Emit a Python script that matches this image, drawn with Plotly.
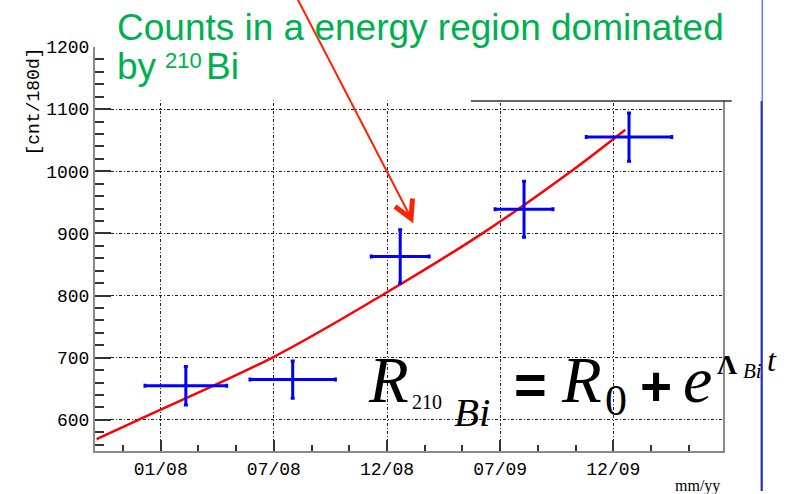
import plotly.graph_objects as go

# Counts per 180 d bin: bin centre (days after the 01/08 tick), half-width, value, error
bin_day = [40, 210, 381, 578, 745]
bin_halfwidth = [65, 68, 46, 46, 68]
counts = [655, 665, 863, 939, 1055]
count_err = [31, 30, 43, 45, 39]

# Exponential fit, sampled along the time axis
fit_day = [-102, -38, 177, 346, 513, 654, 739]
fit_counts = [569, 599, 700, 797, 901, 1001, 1067]

# Time axis ticks
tick_day = [0, 180, 360, 540, 720]
tick_text = ["01/08", "07/08", "12/08", "07/09", "12/09"]

W, H = 796, 494
L, R, T, B = 95, 723, 47, 451

def px(x):
    return (x - L) / (R - L)

def py(y):
    return (B - y) / (B - T)

fig = go.Figure()

fig.add_trace(go.Scatter(
    x=fit_day, y=fit_counts, mode="lines",
    line=dict(color="#ff0000", width=2.5, shape="spline", smoothing=1.0),
    hoverinfo="skip", showlegend=False,
))

fig.add_trace(go.Scatter(
    x=bin_day, y=counts, mode="markers",
    marker=dict(color="#0000ff", size=2),
    error_x=dict(type="data", array=bin_halfwidth, color="#0000ff", thickness=3, width=2),
    error_y=dict(type="data", array=count_err, color="#0000ff", thickness=3, width=2),
    showlegend=False,
))

grid = dict(showgrid=True, gridcolor="#222222", gridwidth=1, griddash="3px,2px,1px,2px")
mono = dict(family="Liberation Mono", size=18, color="black")

fig.update_xaxes(
    range=[-104.5, 894.5], tickvals=tick_day, ticktext=tick_text,
    ticks="inside", ticklen=11, tickwidth=1.5, tickcolor="#333333",
    minor=dict(dtick=60, tick0=0, ticks="inside", ticklen=6, tickwidth=1.5, tickcolor="#333333", showgrid=False),
    showline=True, linecolor="#8a8a8a", linewidth=2, mirror=False,
    zeroline=False, tickfont=mono, **grid,
)
fig.update_yaxes(
    range=[550, 1200], tickvals=[600, 700, 800, 900, 1000, 1100, 1200],
    ticks="inside", ticklen=16, tickwidth=1.5, tickcolor="#333333",
    minor=dict(dtick=20, tick0=0, ticks="inside", ticklen=9, tickwidth=1.5, tickcolor="#333333", showgrid=False),
    showline=True, linecolor="#8a8a8a", linewidth=2, mirror=True,
    zeroline=False, tickfont=mono, **grid,
)

shapes = []
# white text panel over the top of the frame
shapes.append(dict(type="rect", xref="paper", yref="paper", layer="above",
                   x0=px(104), x1=px(760), y0=py(100.5), y1=py(-5),
                   fillcolor="white", line=dict(width=0)))
# panel edge lines
shapes.append(dict(type="line", xref="paper", yref="paper", layer="above",
                   x0=px(471), x1=px(731.7), y0=py(101), y1=py(101),
                   line=dict(color="#333333", width=1.5)))
shapes.append(dict(type="line", xref="paper", yref="paper", layer="above",
                   x0=px(762.3), x1=px(762.3), y0=py(-2), y1=py(101),
                   line=dict(color="#6677dd", width=1.5)))
shapes.append(dict(type="line", xref="paper", yref="paper", layer="above",
                   x0=px(761.7), x1=px(761.7), y0=py(101), y1=py(491),
                   line=dict(color="#1f2fbf", width=2.2)))
# arrow pointing at the 12/08 bin
shapes.append(dict(type="line", xref="paper", yref="paper", layer="above",
                   x0=px(297), x1=px(410), y0=py(-2), y1=py(216),
                   line=dict(color="#ff2200", width=2)))
head = "M {} {} L {} {} L {} {}".format(px(395), py(206.5), px(411), py(218.5), px(412.5), py(198.5))
shapes.append(dict(type="path", xref="paper", yref="paper", layer="above", path=head,
                   line=dict(color="#ff2200", width=5)))
fig.update_layout(shapes=shapes)

ann = []

def label(text, left, baseline, size, family, color="black", asc=0.9, desc=0.214, **kw):
    yc = baseline - (asc - desc) / 2 * size
    ann.append(dict(text=text, x=px(left), y=py(yc), xref="paper", yref="paper",
                    xanchor="left", yanchor="middle", showarrow=False,
                    font=dict(family=family, size=size, color=color, **kw)))

green = "#00b050"
sans = "Liberation Sans"
serif = "Liberation Serif"

label("Counts in a energy region dominated", 115, 40, 37, sans, green)
label("by", 115, 79, 37, sans, green)
label("210", 163, 68, 22, sans, green)
label("Bi", 204, 79, 37, sans, green)

label("<i>R</i>", 366, 402, 65, serif)
label("210", 410, 409, 20, serif)
label("<i>Bi</i>", 452, 426, 41, serif)
label("=", 512, 404, 56, sans, weight="bold")
label("<i>R</i>", 559, 402, 65, serif)
label("0", 603, 416, 44, serif)
label("+", 638, 405, 55, sans, weight="bold")
label("<i>e</i>", 681, 402, 66, serif)
label("Λ", 715, 374, 28, serif, weight="bold")
label("<i>Bi</i>", 741, 378, 21, serif)
label("<i>t</i>", 765, 371, 32, serif)

# axis titles
ann.append(dict(text="[cnt/180d]", x=px(33), y=py(101.5), xref="paper", yref="paper",
                xanchor="center", yanchor="middle", textangle=-90, showarrow=False,
                font=dict(family="Liberation Mono", size=18, color="black")))
ann.append(dict(text="mm/yy", x=px(722), y=py(486), xref="paper", yref="paper",
                xanchor="right", yanchor="middle", showarrow=False,
                font=dict(family=serif, size=16, color="black")))

fig.update_layout(
    annotations=ann,
    width=W, height=H,
    margin=dict(l=L, r=W - R, t=T, b=H - B, pad=0),
    paper_bgcolor="white", plot_bgcolor="white",
    showlegend=False,
)

fig.write_html("out.html")
